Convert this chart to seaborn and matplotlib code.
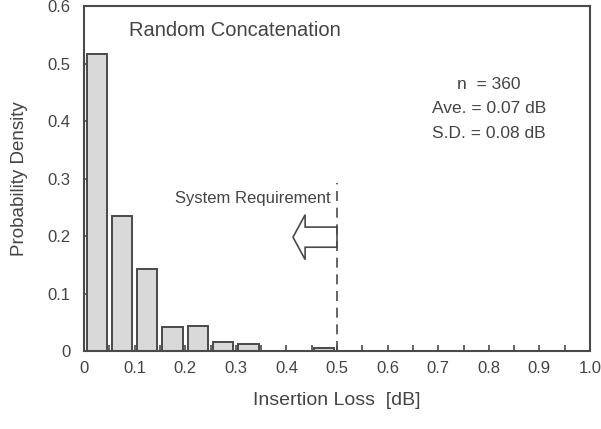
import numpy as np
import matplotlib
matplotlib.use('Agg')
import matplotlib.pyplot as plt
import seaborn as sns
from matplotlib.patches import FancyArrow
from matplotlib.ticker import MultipleLocator

# histogram bins (bin centres, dB) and probability density
bin_centers = [0.025, 0.075, 0.125, 0.175, 0.225, 0.275, 0.325, 0.475]
density = [0.516, 0.234, 0.142, 0.042, 0.044, 0.015, 0.013, 0.005]
x_ticks = [0, 0.1, 0.2, 0.3, 0.4, 0.5, 0.6, 0.7, 0.8, 0.9, 1.0]
x_ticklabels = ["0", "0.1", "0.2", "0.3", "0.4", "0.5", "0.6", "0.7", "0.8", "0.9", "1.0"]
y_ticks = [0, 0.1, 0.2, 0.3, 0.4, 0.5, 0.6]
y_ticklabels = ["0", "0.1", "0.2", "0.3", "0.4", "0.5", "0.6"]
stats_lines = ["n  = 360", "Ave. = 0.07 dB", "S.D. = 0.08 dB"]
requirement = 0.5

sns.set_style('white')
plt.rcParams['font.family'] = ['Liberation Sans', 'DejaVu Sans']
txt = '#444444'
edge = '#4a4a4a'

fig = plt.figure(figsize=(6.01, 4.29), dpi=100)
ax = fig.add_axes([0.1398, 0.1818, 0.8419, 0.8042])

sns.barplot(x=bin_centers, y=density, native_scale=True, width=0.8, errorbar=None,
            color='#d9d9d9', edgecolor=edge, linewidth=1.4, saturation=1, ax=ax)

ax.set_xlim(0, 1.0)
ax.set_ylim(0, 0.6)
ax.set_xticks(x_ticks)
ax.set_xticklabels(x_ticklabels)
ax.set_yticks(y_ticks)
ax.set_yticklabels(y_ticklabels)
ax.xaxis.set_minor_locator(MultipleLocator(0.05))
ax.tick_params(axis='both', which='both', direction='in', length=4, width=1.2,
               bottom=True, left=True, colors=edge, labelcolor=txt, labelsize=12)
ax.tick_params(axis='x', pad=7)
ax.tick_params(axis='y', pad=10)
for s in ax.spines.values():
    s.set_color(edge)
    s.set_linewidth(1.5)

ax.set_xlabel("Insertion Loss  [dB]", fontsize=14, color=txt, labelpad=12)
ax.set_ylabel("Probability Density", fontsize=13.5, color=txt, labelpad=14)

# requirement line + arrow
ax.axvline(requirement, ymax=0.488, color=edge, linestyle=(0, (6, 4)), linewidth=1.2)
arr = FancyArrow(requirement, 0.198, -0.087, 0, width=0.035, head_width=0.078,
                 head_length=0.024, length_includes_head=True,
                 facecolor='white', edgecolor=edge, linewidth=1.2)
ax.add_patch(arr)
ax.text(0.488, 0.266, "System Requirement", ha='right', va='center', fontsize=12, color=txt)

ax.text(0.299, 0.558, "Random Concatenation", ha='center', va='center', fontsize=14.5, color=txt)
for i, line in enumerate(stats_lines):
    ax.text(0.80, 0.463 - i * 0.042, line, ha='center', va='center', fontsize=12.5, color=txt)

plt.savefig('out.png', dpi=100)
